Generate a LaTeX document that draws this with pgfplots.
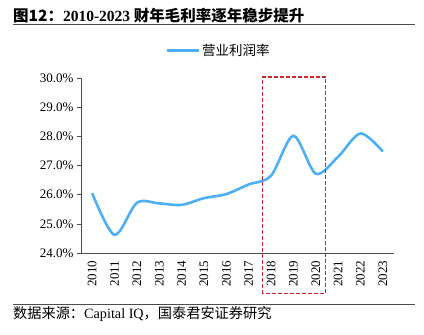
\documentclass[border=0pt]{standalone}
\usepackage{pgfplots}
\pgfplotsset{compat=1.18}
\usepackage{fontspec}
\setmainfont{Liberation Serif}
\newfontfamily\cjk{Noto Sans CJK SC}
\definecolor{lineblue}{HTML}{4DB0F5}
\definecolor{boxred}{HTML}{C8282D}
\begin{document}
\begin{tikzpicture}
\useasboundingbox (0pt,0pt) rectangle (424pt,335pt);
\begin{axis}[
  at={(81pt,82pt)}, anchor=south west,
  scale only axis, width=313pt, height=175pt,
  xmin=-0.5, xmax=13.5, ymin=24, ymax=30,
  axis lines*=left,
  axis line style={draw=black!70, line width=0.8pt},
  xtick={0,...,13},
  xticklabels={2010,2011,2012,2013,2014,2015,2016,2017,2018,2019,2020,2021,2022,2023},
  xticklabel style={rotate=90, anchor=east, font=\fontsize{13}{13}\selectfont},
  major x tick style={draw=none},
  ytick={24,25,...,30},
  yticklabel={\pgfmathprintnumber[fixed,fixed zerofill,precision=1]{\tick}\%},
  yticklabel style={font=\fontsize{13}{13}\selectfont},
  /pgf/number format/assume math mode=true,
  tick align=outside, major tick length=4pt,
  tick style={draw=black!70, line width=0.6pt},
  clip=false,
  legend style={draw=none, at={(0.44,1.155)}, anchor=center, font=\cjk\fontsize{13.5}{13.5}\selectfont, legend cell align=left},
  legend image code/.code={\draw[#1, line width=3pt] (0,0) -- (1.1cm,0);},
]
\addplot[lineblue, line width=2.6pt, smooth, tension=0.5] coordinates {
(0,26.05) (1,24.62) (2,25.72) (3,25.7) (4,25.65) (5,25.88) (6,26.02) (7,26.35) (8,26.65) (9,28.02) (10,26.72) (11,27.3) (12,28.1) (13,27.48)
};
\addlegendentry{营业利润率}
\draw[boxred, dash pattern=on 4pt off 2pt, line width=1.3pt] (axis cs:7.62,22.6) rectangle (axis cs:10.45,30.03);
\end{axis}
\node[anchor=west, inner sep=0] at (13pt,319pt) {\cjk\bfseries\fontsize{15.5}{16}\selectfont 图12：{\rmfamily\bfseries 2010-2023} 财年毛利率逐年稳步提升};
\draw[black!70, line width=1.2pt] (13pt,310.5pt) -- (415pt,310.5pt);
\draw[black!70, line width=0.8pt] (13pt,31pt) -- (415pt,31pt);
\node[anchor=west, inner sep=0] at (13pt,21pt) {\cjk\fontsize{14.2}{14}\selectfont 数据来源：{\rmfamily Capital IQ}，国泰君安证券研究};
\end{tikzpicture}
\end{document}
